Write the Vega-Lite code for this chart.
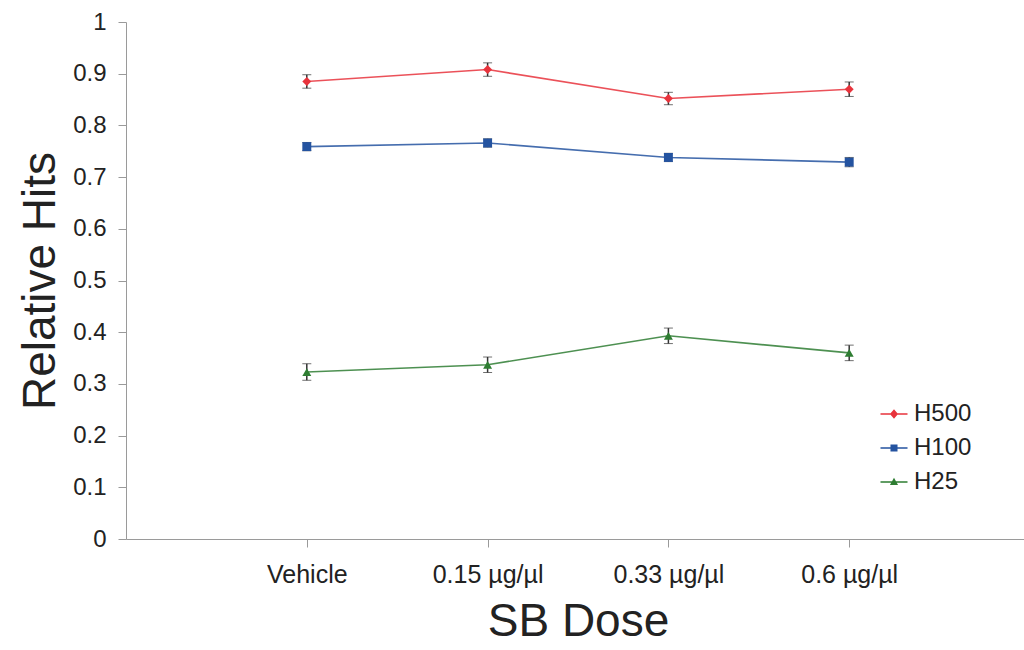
{
  "$schema": "https://vega.github.io/schema/vega-lite/v6.json",
  "autosize": "none",
  "padding": {"left": 126, "top": 22, "right": 0, "bottom": 111},
  "width": 904,
  "height": 517,
  "background": "white",
  "config": {
    "font": "Liberation Sans",
    "view": {"stroke": null},
    "axis": {"grid": false, "domainColor": "#9a9a9a", "tickColor": "#9a9a9a", "labelColor": "#222", "titleColor": "#222", "titleFontWeight": "normal", "labelFont": "Liberation Sans", "titleFont": "Liberation Sans"}
  },
  "data": {
    "values": [
      {"series": "H500", "dose": "Vehicle", "hits": 0.885, "err": 0.013},
      {"series": "H500", "dose": "0.15 µg/µl", "hits": 0.908, "err": 0.013},
      {"series": "H500", "dose": "0.33 µg/µl", "hits": 0.852, "err": 0.012},
      {"series": "H500", "dose": "0.6 µg/µl", "hits": 0.870, "err": 0.014},
      {"series": "H100", "dose": "Vehicle", "hits": 0.759, "err": 0.008},
      {"series": "H100", "dose": "0.15 µg/µl", "hits": 0.766, "err": 0.008},
      {"series": "H100", "dose": "0.33 µg/µl", "hits": 0.738, "err": 0.008},
      {"series": "H100", "dose": "0.6 µg/µl", "hits": 0.729, "err": 0.009},
      {"series": "H25", "dose": "Vehicle", "hits": 0.323, "err": 0.016},
      {"series": "H25", "dose": "0.15 µg/µl", "hits": 0.337, "err": 0.015},
      {"series": "H25", "dose": "0.33 µg/µl", "hits": 0.393, "err": 0.015},
      {"series": "H25", "dose": "0.6 µg/µl", "hits": 0.360, "err": 0.015}
    ]
  },
  "encoding": {
    "x": {
      "field": "dose", "type": "ordinal",
      "scale": {"type": "point", "padding": 1, "domain": ["Vehicle", "0.15 µg/µl", "0.33 µg/µl", "0.6 µg/µl"]},
      "axis": {"title": "SB Dose", "labelAngle": 0, "labelFontSize": 25, "tickSize": 8, "labelPadding": 15, "titleFontSize": 46, "titlePadding": 12}
    },
    "y": {
      "field": "hits", "type": "quantitative",
      "scale": {"domain": [0, 1], "nice": false, "zero": true},
      "axis": {"title": "Relative Hits", "values": [0, 0.1, 0.2, 0.3, 0.4, 0.5, 0.6, 0.7, 0.8, 0.9, 1], "format": ".1~f", "labelFontSize": 24, "tickSize": 8, "labelPadding": 12, "titleFontSize": 46, "titlePadding": 8}
    },
    "color": {"field": "series", "type": "nominal",
      "scale": {"domain": ["H500", "H100", "H25"], "range": ["#e8333c", "#2453a0", "#2e7d32"]},
      "legend": {
        "title": null, "orient": "none", "legendX": 754, "legendY": 378,
        "labelFontSize": 24, "labelColor": "#222", "labelOffset": 6, "rowPadding": 8, "symbolSize": 730,
        "encoding": {"symbols": {
          "size": {"value": 730},
          "strokeWidth": {"value": 0},
          "opacity": {"value": 1},
          "fillOpacity": {"value": 1},
          "fill": {"value": {"expr": "scale('color', datum.value)"}},
          "shape": {"value": {"expr": "datum.value === 'H500' ? 'M-1,-0.055H1V0.055H-1Z M0,-0.35L0.3,0L0,0.35L-0.3,0Z' : datum.value === 'H100' ? 'M-1,-0.055H1V0.055H-1Z M-0.26,-0.26H0.26V0.26H-0.26Z' : 'M-1,-0.055H1V0.055H-1Z M0,-0.32L0.3,0.22H-0.3Z'"}}
        }}
      }
    }
  },
  "layer": [
    {
      "mark": {"type": "line", "strokeWidth": 1.6, "opacity": 0.85}
    },
    {
      "mark": {"type": "errorbar", "ticks": {"size": 9, "strokeWidth": 1.5}, "rule": {"strokeWidth": 1.5}},
      "encoding": {
        "yError": {"field": "err"},
        "color": {"value": "#333"}
      }
    },
    {
      "transform": [{"filter": {"field": "series", "equal": "H500"}}],
      "mark": {"type": "point", "filled": true, "opacity": 1, "size": 80, "shape": "diamond"}
    },
    {
      "transform": [{"filter": {"field": "series", "equal": "H100"}}],
      "mark": {"type": "point", "filled": true, "opacity": 1, "size": 80, "shape": "square"}
    },
    {
      "transform": [{"filter": {"field": "series", "equal": "H25"}}],
      "mark": {"type": "point", "filled": true, "opacity": 1, "size": 80, "shape": "triangle-up"}
    }
  ]
}
